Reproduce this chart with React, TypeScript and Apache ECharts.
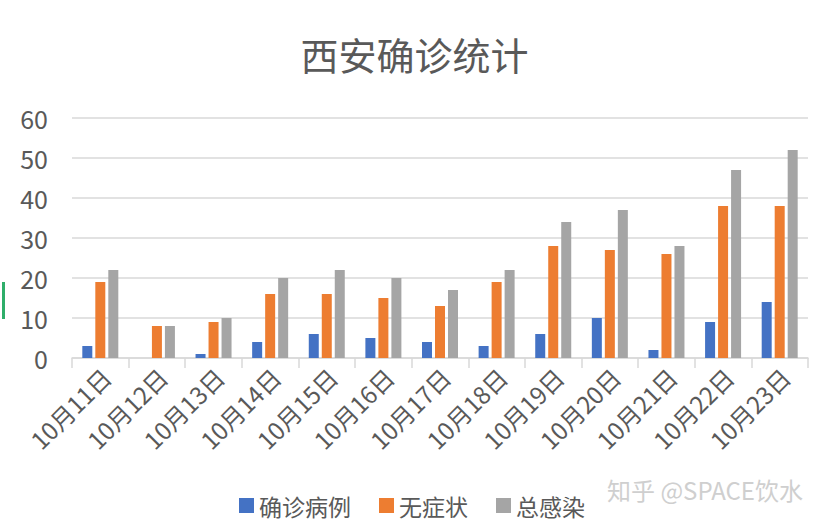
import React, { useEffect, useRef } from "react";
import * as echarts from "echarts";

const categories = ["10月11日", "10月12日", "10月13日", "10月14日", "10月15日", "10月16日", "10月17日", "10月18日", "10月19日", "10月20日", "10月21日", "10月22日", "10月23日"];
const confirmed = [3, 0, 1, 4, 6, 5, 4, 3, 6, 10, 2, 9, 14];
const asymptomatic = [19, 8, 9, 16, 16, 15, 13, 19, 28, 27, 26, 38, 38];
const total = [22, 8, 10, 20, 22, 20, 17, 22, 34, 37, 28, 47, 52];
const seriesNames = ["确诊病例", "无症状", "总感染"];
const colors = ["#4472c4", "#ed7d31", "#a5a5a5"];

const FONT = "'Noto Sans CJK SC', 'Noto Sans', sans-serif";

export default function App() {
  const ref = useRef<HTMLDivElement>(null);
  useEffect(() => {
    const chart = echarts.init(ref.current!, null, { renderer: "svg" });
    const datasets = [confirmed, asymptomatic, total];
    chart.setOption({
      animation: false,
      backgroundColor: "#ffffff",
      textStyle: { fontFamily: FONT },
      title: {
        text: "西安确诊统计",
        left: "center",
        top: 29,
        textStyle: { fontFamily: FONT, fontSize: 38, fontWeight: "normal", color: "#595959" },
      },
      legend: {
        bottom: 4,
        left: 234,
        itemWidth: 15,
        itemHeight: 15,
        itemGap: 28,
        icon: "rect",
        textStyle: { fontFamily: FONT, fontSize: 23, color: "#595959" },
        data: seriesNames,
      },
      grid: { left: 72, right: 21, top: 118, bottom: 168, containLabel: false },
      xAxis: {
        type: "category",
        data: categories,
        boundaryGap: true,
        axisLine: { lineStyle: { color: "#d9d9d9", width: 1.5 } },
        axisTick: { show: true, length: 10, alignWithLabel: false, lineStyle: { color: "#d9d9d9", width: 1.5 } },
        axisLabel: { rotate: 45, fontSize: 24, color: "#595959", margin: 20, interval: 0, fontFamily: FONT, padding: [0, -8, 0, 0] },
      },
      yAxis: {
        type: "value",
        min: 0,
        max: 60,
        interval: 10,
        axisLine: { show: false },
        axisTick: { show: false },
        axisLabel: { fontSize: 25, color: "#595959", margin: 24, fontFamily: FONT },
        splitLine: { lineStyle: { color: "#d9d9d9", width: 1.5 } },
      },
      series: seriesNames.map((name, i) => ({
        name,
        type: "bar",
        data: datasets[i],
        barWidth: 10,
        barGap: "30%",
        itemStyle: { color: colors[i] },
      })),
      graphic: [
        {
          type: "text",
          left: 607,
          top: 477,
          style: { text: "知乎 @SPACE饮水", fontFamily: FONT, fontSize: 24, fill: "#cfcfcf" },
        },
        {
          type: "rect",
          shape: { x: 2, y: 282, width: 3, height: 37 },
          style: { fill: "#2fae6a" },
        },
      ],
    });
    return () => chart.dispose();
  }, []);
  return <div ref={ref} style={{ width: 829, height: 526, position: "absolute", left: 0, top: 0 }} />;
}
